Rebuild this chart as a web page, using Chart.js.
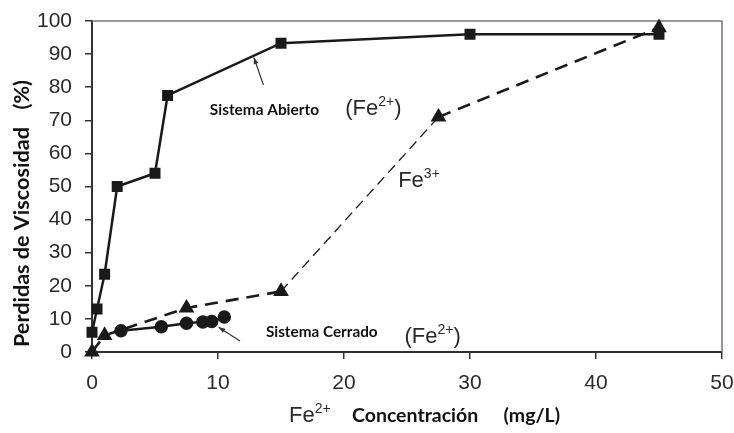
<!DOCTYPE html>
<html>
<head>
<meta charset="utf-8">
<script src="https://cdn.jsdelivr.net/npm/chart.js@4"></script>
<style>
  body { margin: 0; background: #fff; }
  canvas { display: block; }
</style>
</head>
<body>
<canvas id="chart" width="734" height="433"></canvas>
<script>
// Sistema Abierto (Fe2+)
const abiertoX = [0, 0.4, 1, 2, 5, 6, 15, 30, 45];
const abiertoY = [6, 13, 23.5, 50, 54, 77.5, 93.3, 96, 96];
// Fe3+
const fe3X = [0, 1, 7.5, 15, 27.5, 45];
const fe3Y = [0, 5, 13.3, 18.3, 71, 98];
// Sistema Cerrado (Fe2+)
const cerradoX = [2.3, 5.5, 7.5, 8.8, 9.5, 10.5];
const cerradoY = [6.4, 7.6, 8.7, 9.1, 9.2, 10.6];

const xTicks = [0, 10, 20, 30, 40, 50];
const yTicks = [0, 10, 20, 30, 40, 50, 60, 70, 80, 90, 100];

const ink = '#1a1a1a';
const tickFont = { family: 'Liberation Sans', size: 21 };
const boldFamily = 'Lato';

const toPoints = (xs, ys) => xs.map((x, i) => ({ x, y: ys[i] }));

// fit a bold label to a width measured on the picture
const fitFont = (ctx, text, width, weight) => {
  ctx.font = `${weight} 20px ${boldFamily}`;
  const size = 20 * width / ctx.measureText(text).width;
  return `${weight} ${size.toFixed(1)}px ${boldFamily}`;
};

const drawFe = (ctx, x, y, charge, size) => {
  ctx.font = `${size}px Liberation Sans`;
  ctx.textAlign = 'left';
  ctx.textBaseline = 'alphabetic';
  ctx.fillText('Fe', x, y);
  const w = ctx.measureText('Fe').width;
  ctx.font = `${Math.round(size * 0.64)}px Liberation Sans`;
  ctx.fillText(charge, x + w, y - size * 0.4);
  return x + w + ctx.measureText(charge).width;
};

const arrow = (ctx, x1, y1, x2, y2) => {
  const a = Math.atan2(y2 - y1, x2 - x1);
  ctx.strokeStyle = '#333';
  ctx.fillStyle = '#333';
  ctx.lineWidth = 1.3;
  ctx.beginPath();
  ctx.moveTo(x1, y1);
  ctx.lineTo(x2, y2);
  ctx.stroke();
  ctx.beginPath();
  ctx.moveTo(x2, y2);
  ctx.lineTo(x2 - 7 * Math.cos(a - 0.35), y2 - 7 * Math.sin(a - 0.35));
  ctx.lineTo(x2 - 7 * Math.cos(a + 0.35), y2 - 7 * Math.sin(a + 0.35));
  ctx.closePath();
  ctx.fill();
};

const decorations = {
  id: 'decorations',
  beforeDatasetsDraw(chart) {
    const { ctx, chartArea: a } = chart;
    ctx.save();
    ctx.strokeStyle = '#777';
    ctx.lineWidth = 1.5;
    ctx.beginPath();
    ctx.moveTo(a.left, a.top);
    ctx.lineTo(a.right, a.top);
    ctx.lineTo(a.right, a.bottom);
    ctx.stroke();
    ctx.restore();
  },
  afterDraw(chart) {
    const { ctx } = chart;
    const sx = chart.scales.x, sy = chart.scales.y;
    const px = v => sx.getPixelForValue(v);
    const py = v => sy.getPixelForValue(v);
    ctx.save();
    ctx.fillStyle = '#111';

    // y axis title
    ctx.save();
    ctx.translate(29, 0);
    ctx.rotate(-Math.PI / 2);
    const mainTitle = 'Perdidas de Viscosidad';
    ctx.font = fitFont(ctx, mainTitle, 220, 'bold');
    ctx.textAlign = 'left';
    ctx.textBaseline = 'alphabetic';
    ctx.fillText(mainTitle, -347, 0);
    ctx.textAlign = 'right';
    ctx.fillText('(%)', -80, 0);
    ctx.restore();

    // x axis title
    ctx.fillStyle = '#2a2a2a';
    drawFe(ctx, 289, 422, '2+', 22);
    ctx.fillStyle = '#111';
    ctx.font = fitFont(ctx, 'Concentración', 126, 'bold');
    ctx.textAlign = 'left';
    ctx.fillText('Concentración', 352, 422);
    ctx.textAlign = 'right';
    ctx.fillText('(mg/L)', 560, 422);

    // series labels
    ctx.font = fitFont(ctx, 'Sistema Abierto', 109, 'bold');
    ctx.textAlign = 'left';
    ctx.fillText('Sistema Abierto', px(9.35), py(71.6));
    ctx.font = fitFont(ctx, 'Sistema Cerrado', 112, 'bold');
    ctx.fillText('Sistema Cerrado', px(13.8), py(4.5));

    ctx.fillStyle = '#2a2a2a';
    ctx.font = '22px Liberation Sans';
    let x = px(20.1), y = py(71.6);
    ctx.fillText('(', x, y);
    x = drawFe(ctx, x + ctx.measureText('(').width, y, '2+', 22);
    ctx.font = '22px Liberation Sans';
    ctx.fillText(')', x, y);

    x = px(24.8); y = py(2.7);
    ctx.fillText('(', x, y);
    x = drawFe(ctx, x + ctx.measureText('(').width, y, '2+', 22);
    ctx.font = '22px Liberation Sans';
    ctx.fillText(')', x, y);

    drawFe(ctx, px(24.3), py(50), '3+', 22);

    arrow(ctx, px(13.6), py(80.7), px(12.85), py(89));
    arrow(ctx, px(11.75), py(3.3), px(10.05), py(7.5));
    ctx.restore();
  }
};

const axisStyle = {
  grid: { display: true, drawOnChartArea: false, drawTicks: true, tickLength: 7, color: '#333', lineWidth: 1.5 },
  border: { display: true, color: '#333', width: 2 }
};

new Chart(document.getElementById('chart'), {
  type: 'line',
  data: {
    datasets: [
      {
        label: 'Sistema Abierto',
        data: toPoints(abiertoX, abiertoY),
        borderColor: ink, backgroundColor: ink, borderWidth: 2.5,
        pointStyle: 'rect', pointRadius: 6, clip: false
      },
      {
        label: 'Fe3+',
        data: toPoints(fe3X, fe3Y),
        borderColor: ink, backgroundColor: ink, borderWidth: 2.6,
        borderDash: [13, 8],
        segment: {
          borderWidth: c => c.p0DataIndex === 3 ? 1.3 : 2.6,
          borderDash: c => c.p0DataIndex === 3 ? [10, 6] : [13, 8]
        },
        pointStyle: 'triangle', pointRadius: 6.5, clip: false
      },
      {
        label: 'Sistema Cerrado',
        data: toPoints(cerradoX, cerradoY),
        borderColor: ink, backgroundColor: ink, borderWidth: 2.5,
        pointStyle: 'circle', pointRadius: 5.5, clip: false
      }
    ]
  },
  options: {
    responsive: false,
    animation: false,
    layout: { padding: { top: 21, right: 12, left: 0, bottom: 0 } },
    plugins: { legend: { display: false }, tooltip: { enabled: false } },
    scales: {
      x: {
        type: 'linear', min: 0, max: 50,
        afterFit: s => { s.height = 81; s.paddingLeft = 0; s.paddingRight = 0; },
        afterBuildTicks: s => { s.ticks = xTicks.map(v => ({ value: v })); },
        ticks: { font: tickFont, color: '#2b2b2b', padding: 12, maxRotation: 0 },
        ...axisStyle
      },
      y: {
        type: 'linear', min: 0, max: 100,
        afterFit: s => { s.width = 92; s.paddingTop = 0; s.paddingBottom = 0; },
        afterBuildTicks: s => { s.ticks = yTicks.map(v => ({ value: v })); },
        ticks: { font: tickFont, color: '#2b2b2b', padding: 13 },
        ...axisStyle
      }
    }
  },
  plugins: [decorations]
});
</script>
</body>
</html>
